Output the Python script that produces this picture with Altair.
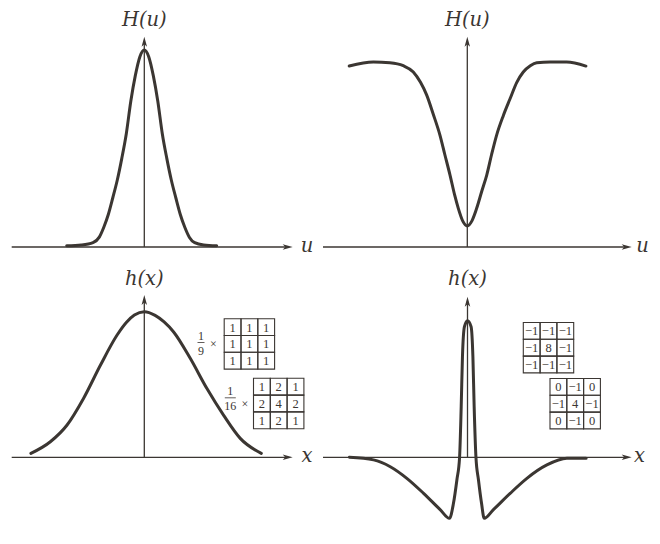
import altair as alt
import pandas as pd

# ---------------- curve data ----------------
# top-left: Gaussian lowpass filter H(u)
tl_u = [-4.31, -3.5, -2.85, -2.5, -2.25, -2.0, -1.75, -1.5, -1.25, -1.0, -0.75, -0.5, -0.25, 0.0,
        0.25, 0.5, 0.75, 1.0, 1.25, 1.5, 1.75, 2.0, 2.25, 2.5, 2.8, 3.3, 4.02]
tl_H = [0.006, 0.01, 0.022, 0.05, 0.10, 0.165, 0.25, 0.34, 0.45, 0.575, 0.74, 0.87, 0.965, 1.0,
        0.965, 0.87, 0.74, 0.575, 0.45, 0.34, 0.25, 0.165, 0.10, 0.05, 0.022, 0.01, 0.006]

# top-right: highpass filter H(u)
tr_u = [-6.56, -5.22, -4.3, -3.56, -3.0, -2.6, -2.26, -1.9, -1.52, -1.25, -0.96, -0.7, -0.5, -0.25, 0.0,
        0.25, 0.52, 0.8, 1.08, 1.35, 1.63, 2.0, 2.37, 2.75, 3.11, 3.5, 3.86, 4.6, 5.52, 6.59]
tr_H = [0.978, 1.0, 0.996, 0.98, 0.946, 0.89, 0.822, 0.72, 0.605, 0.50, 0.389, 0.28, 0.209, 0.14, 0.114,
        0.14, 0.209, 0.30, 0.389, 0.50, 0.605, 0.71, 0.80, 0.89, 0.946, 0.98, 0.996, 1.0, 1.0, 0.978]

# bottom-left: spatial lowpass h(x)
bl_x = [-6.3, -5.22, -4.29, -3.37, -2.44, -1.52, -1.0, -0.55, 0.0, 0.6, 1.1, 1.63, 2.56, 3.48, 4.41, 5.33, 6.5]
bl_h = [0.027, 0.107, 0.222, 0.406, 0.632, 0.838, 0.926, 0.977, 1.0, 0.975, 0.93, 0.861, 0.678, 0.472, 0.288, 0.13, 0.027]

# bottom-right: spatial highpass h(x)
br_x = [-6.56, -5.22, -4.29, -3.37, -2.44, -1.52, -1.0, -0.78, -0.59, -0.44, -0.35, -0.28, -0.17, 0.0,
        0.2, 0.3, 0.37, 0.47, 0.61, 0.78, 0.93, 1.44, 2.37, 3.3, 4.41, 5.52, 6.59]
br_h = [0.0, -0.019, -0.069, -0.154, -0.264, -0.383, -0.447, -0.337, -0.166, 0.0, 0.371, 0.737, 0.956, 1.0,
        0.956, 0.737, 0.371, 0.0, -0.166, -0.337, -0.447, -0.383, -0.264, -0.154, -0.056, -0.007, -0.007]

# ---------------- kernels ----------------
box_kernel = [[1, 1, 1], [1, 1, 1], [1, 1, 1]]
gauss_kernel = [[1, 2, 1], [2, 4, 2], [1, 2, 1]]
lap8_kernel = [[-1, -1, -1], [-1, 8, -1], [-1, -1, -1]]
lap4_kernel = [[0, -1, 0], [-1, 4, -1], [0, -1, 0]]
box_factor = ("1", "9")
gauss_factor = ("1", "16")

# ---------------- text ----------------
freq_title, freq_axis = "H(u)", "u"
space_title, space_axis = "h(x)", "x"

# ---------------- style / layout ----------------
INK = "#3b3632"
SERIF = "Liberation Serif, DejaVu Serif, serif"
MATH = "DejaVu Serif"
PANEL_W, PANEL_H = 322, 264
PX_PER_UNIT = 18.0
CELL = 16.8
ARROW_RIGHT = "M0,0L-2,-0.55L-1.5,0L-2,0.55Z"
ARROW_UP = "M0,0L-0.55,2L0,1.5L0.55,2Z"


def fmt(v):
    return str(v).replace("-", "\u2212")


def build_panel(cx, cy, cfg):
    ox, oy = cfg["origin"]
    px0, py0 = cfg["panel"]
    ypx = cfg["ypx"]

    def U(px):
        return (px - ox) / PX_PER_UNIT

    def V(py):
        return (oy - py) / ypx

    xs = alt.Scale(domain=[U(px0), U(px0 + PANEL_W)], nice=False, zero=False)
    ys = alt.Scale(domain=[V(py0 + PANEL_H), V(py0)], nice=False, zero=False)

    def X(f):
        return alt.X(f, type="quantitative", scale=xs, axis=None)

    def Y(f):
        return alt.Y(f, type="quantitative", scale=ys, axis=None)

    h0, htip = cfg["haxis"]
    vtip = cfg["vtip"]
    axes = pd.DataFrame({
        "x": [U(h0), 0.0],
        "x2": [U(htip - 4), 0.0],
        "y": [0.0, 0.0],
        "y2": [0.0, V(vtip + 4)],
    })
    arrows = pd.DataFrame({
        "x": [U(htip), 0.0],
        "y": [0.0, V(vtip)],
        "shape": [ARROW_RIGHT, ARROW_UP],
    })
    layers = [
        alt.Chart(axes).mark_rule(color=INK, strokeWidth=1.3).encode(
            x=X("x"), x2="x2", y=Y("y"), y2="y2"),
        alt.Chart(arrows).mark_point(filled=True, size=100, opacity=1, color=INK, strokeWidth=0).encode(
            x=X("x"), y=Y("y"), shape=alt.Shape("shape:N", scale=None)),
        alt.Chart(pd.DataFrame({"x": cx, "y": cy})).mark_line(
            color=INK, strokeWidth=3, interpolate="monotone", strokeCap="round").encode(
            x=X("x"), y=Y("y")),
    ]

    # titles
    (tt, tx, tb), (at, ax, ab) = cfg["title"], cfg["axislabel"]
    lab = pd.DataFrame({"t": [tt, at], "x": [U(tx), U(ax)], "y": [V(tb), V(ab)]})
    layers.append(alt.Chart(lab).mark_text(font=MATH, fontStyle="italic", fontSize=19.5, color=INK,
                                           baseline="alphabetic", align="center").encode(
        x=X("x"), y=Y("y"), text="t:N"))

    # kernels
    for k in cfg["kernels"]:
        vals, (left, top) = k["vals"], k["at"]
        rows = []
        for r, row in enumerate(vals):
            for c, v in enumerate(row):
                x1, y1 = left + c * CELL, top + r * CELL
                rows.append(dict(x=U(x1), x2=U(x1 + CELL), y=V(y1), y2=V(y1 + CELL),
                                 xc=U(x1 + CELL / 2), yc=V(y1 + CELL / 2 + 0.5), t=fmt(v)))
        df = pd.DataFrame(rows)
        layers.append(alt.Chart(df).mark_rect(filled=False, stroke=INK, strokeWidth=1.1).encode(
            x=X("x"), x2="x2", y=Y("y"), y2="y2"))
        layers.append(alt.Chart(df).mark_text(font=SERIF, fontSize=12.5, color=INK, baseline="middle").encode(
            x=X("xc"), y=Y("yc"), text="t:N"))
        if "factor" in k:
            (num, den), fx, (ny, by, dy), (tx2, ty2), hw = k["factor"], k["fx"], k["fy"], k["times"], k["barw"]
            ft = pd.DataFrame({"t": [num, den, "\u00d7"],
                               "x": [U(fx), U(fx), U(tx2)],
                               "y": [V(ny), V(dy), V(ty2)]})
            layers.append(alt.Chart(ft).mark_text(font=SERIF, fontSize=12, color=INK, baseline="middle").encode(
                x=X("x"), y=Y("y"), text="t:N"))
            bar = pd.DataFrame({"x": [U(fx - hw)], "x2": [U(fx + hw)], "y": [V(by)]})
            layers.append(alt.Chart(bar).mark_rule(color=INK, strokeWidth=0.8).encode(
                x=X("x"), x2="x2", y=Y("y")))

    return alt.layer(*layers).properties(width=PANEL_W, height=PANEL_H)


tl = build_panel(tl_u, tl_H, dict(
    origin=(144.3, 247), panel=(8, 8), ypx=197, haxis=(11.7, 292.7), vtip=36.7,
    title=(freq_title, 144.3, 26), axislabel=(freq_axis, 307, 251.5), kernels=[]))

tr = build_panel(tr_u, tr_H, dict(
    origin=(467.3, 247), panel=(330, 8), ypx=185, haxis=(323, 631.7), vtip=36.7,
    title=(freq_title, 467.3, 26), axislabel=(freq_axis, 642.5, 251.5), kernels=[]))

bl = build_panel(bl_x, bl_h, dict(
    origin=(144.3, 457.3), panel=(8, 272), ypx=145.6, haxis=(11.7, 292.7), vtip=295,
    title=(space_title, 144.3, 284.5), axislabel=(space_axis, 307, 462),
    kernels=[
        dict(vals=box_kernel, at=(224.2, 318.7), factor=box_factor, fx=201,
             fy=(336, 342.5, 350.5), times=(213.5, 344), barw=3.5),
        dict(vals=gauss_kernel, at=(253.5, 378.3), factor=gauss_factor, fx=230.3,
             fy=(391, 397.8, 406), times=(245, 403.5), barw=5.5),
    ]))

br = build_panel(br_x, br_h, dict(
    origin=(467.5, 457.3), panel=(330, 272), ypx=136.6, haxis=(323, 631.7), vtip=296.7,
    title=(space_title, 467.5, 284.5), axislabel=(space_axis, 639.5, 462),
    kernels=[
        dict(vals=lap8_kernel, at=(523.3, 322.5)),
        dict(vals=lap4_kernel, at=(550, 378.5)),
    ]))

chart = alt.concat(
    tl, tr, bl, br, columns=2, spacing=0, bounds="flush",
).properties(padding=0).configure_view(stroke=None)

chart.save("out.html", embed_options={"renderer": "svg", "actions": False})
